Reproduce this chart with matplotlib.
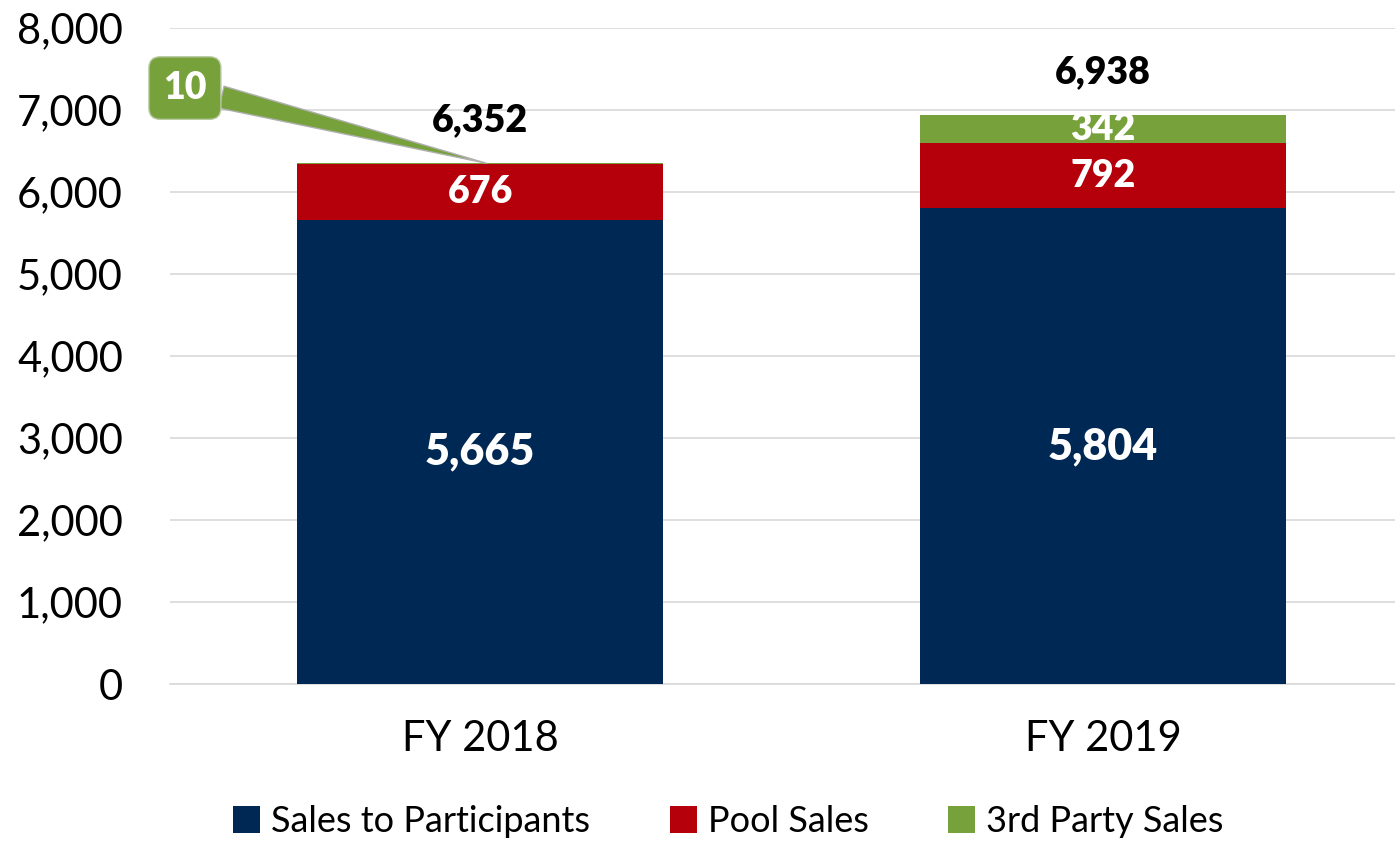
import matplotlib
matplotlib.use("Agg")
import matplotlib.pyplot as plt
import numpy as np

categories = ["FY 2018", "FY 2019"]
participants = [5665, 5804]
pool = [676, 792]
third_party = [10, 342]
totals = [6352, 6938]
series_names = ["Sales to Participants", "Pool Sales", "3rd Party Sales"]

c_navy = "#002855"
c_red = "#B5000B"
c_green = "#76A13B"

plt.rcParams['font.family'] = ['Lato', 'DejaVu Sans']

fig = plt.figure(figsize=(13.95, 8.42), dpi=100)
ax = fig.add_axes([0.122, 0.1876, 0.878, 0.7791])

x = np.arange(len(categories))
w = 0.588
b1 = ax.bar(x, participants, w, color=c_navy, label=series_names[0], zorder=3)
b2 = ax.bar(x, pool, w, bottom=participants, color=c_red, label=series_names[1], zorder=3)
bottom3 = np.array(participants) + np.array(pool)
b3 = ax.bar(x, third_party, w, bottom=bottom3, color=c_green, label=series_names[2], zorder=3)

ax.set_ylim(0, 8000)
ax.set_xlim(-0.4976, -0.4976 + 1225 / 623)
ax.set_yticks(np.arange(0, 8001, 1000))
ax.set_yticklabels([f"{v:,}" for v in range(0, 8001, 1000)], fontsize=30)
ax.set_xticks(x)
ax.set_xticklabels(categories, fontsize=30)
ax.tick_params(axis='both', length=0, colors='black')
ax.tick_params(axis='y', pad=34)
ax.tick_params(axis='x', pad=26)
ax.grid(axis='y', color='#d9d9d9', linewidth=1.2, zorder=0)
for s in ['top', 'right', 'left']:
    ax.spines[s].set_visible(False)
ax.spines['bottom'].set_color('#d9d9d9')
ax.spines['bottom'].set_linewidth(1.2)

for i in range(len(categories)):
    ax.text(x[i], participants[i] / 2, f"{participants[i]:,}", ha='center', va='center',
            color='white', fontsize=31, fontweight='heavy', zorder=4)
    ax.text(x[i], participants[i] + pool[i] / 2, f"{pool[i]:,}", ha='center', va='center',
            color='white', fontsize=27, fontweight='heavy', zorder=4)
    ax.text(x[i], totals[i] + 525, f"{totals[i]:,}", ha='center', va='center',
            color='black', fontsize=27, fontweight='heavy', zorder=4)

# 3rd party labels
ax.text(x[1], bottom3[1] + third_party[1] / 2, f"{third_party[1]:,}", ha='center', va='center',
        color='white', fontsize=27, fontweight='heavy', zorder=4)
ax.annotate(f"{third_party[0]:,}", xy=(x[0] + 0.01, bottom3[0] + third_party[0]),
            xytext=(x[0] - 0.474, 7268), ha='center', va='center',
            color='white', fontsize=27, fontweight='heavy', zorder=5,
            bbox=dict(boxstyle='round,pad=0.38,rounding_size=0.3', fc=c_green, ec='#b8c9a0', lw=1),
            arrowprops=dict(arrowstyle='wedge,tail_width=0.6,shrink_factor=0.5', fc=c_green,
                            ec='#b0b0b0', lw=1, shrinkA=0, shrinkB=0))

leg = fig.legend(handles=[b1, b2, b3], labels=series_names, loc='center',
                 bbox_to_anchor=(0.522, 0.024), ncol=3, frameon=False, fontsize=26,
                 handlelength=0.75, handleheight=0.75, handletextpad=0.3, columnspacing=2.2)

fig.savefig("out.png", dpi=100)
